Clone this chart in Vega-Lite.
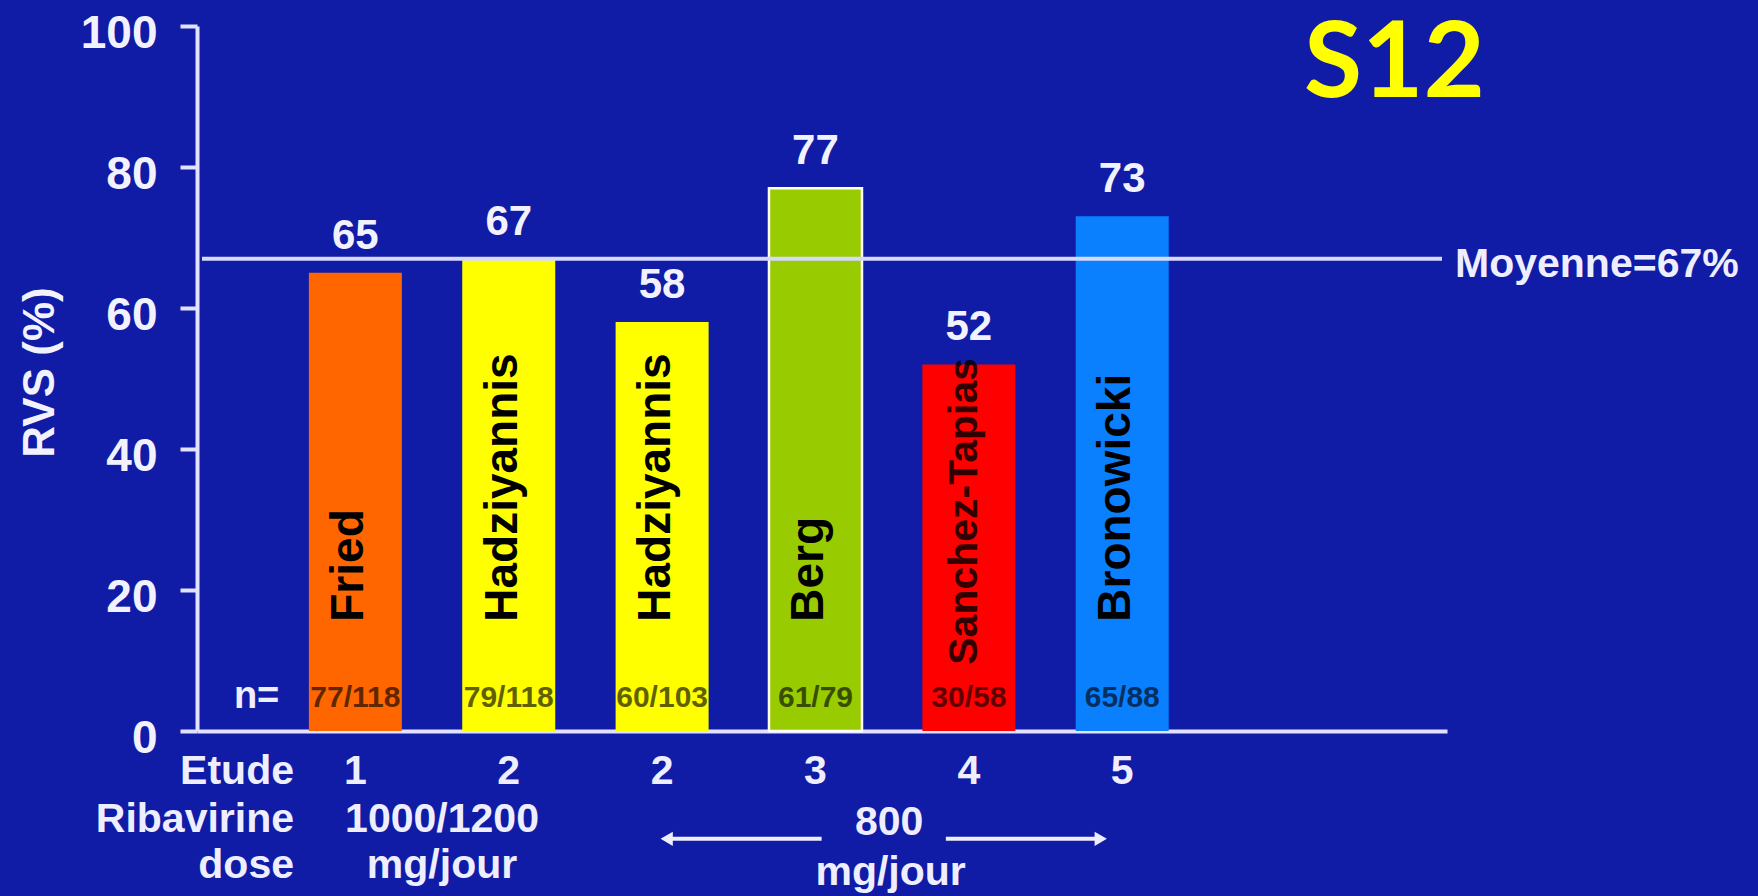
{
  "$schema": "https://vega.github.io/schema/vega-lite/v6.json",
  "width": 1250,
  "height": 705,
  "autosize": {"type": "none"},
  "padding": {"left": 197, "top": 26, "right": 311, "bottom": 165},
  "background": "#101ca6",
  "config": {
    "view": {"stroke": null},
    "font": "Liberation Sans",
    "text": {"font": "Liberation Sans", "fontWeight": "bold"}
  },
  "datasets": {
    "etudes": [
      {"rang": 1, "etude": "1", "auteur": "Fried", "rvs": 65, "n": "77/118"},
      {"rang": 2, "etude": "2", "auteur": "Hadziyannis", "rvs": 67, "n": "79/118"},
      {"rang": 3, "etude": "2", "auteur": "Hadziyannis", "rvs": 58, "n": "60/103"},
      {"rang": 4, "etude": "3", "auteur": "Berg", "rvs": 77, "n": "61/79"},
      {"rang": 5, "etude": "4", "auteur": "Sanchez-Tapias", "rvs": 52, "n": "30/58"},
      {"rang": 6, "etude": "5", "auteur": "Bronowicki", "rvs": 73, "n": "65/88"}
    ],
    "moyenne": [{"rvs_moyenne": 67}]
  },
  "layer": [
    {
      "data": {"name": "etudes"},
      "mark": {"type": "bar", "orient": "vertical", "width": 93, "strokeWidth": 2.5},
      "encoding": {
        "x": {
          "field": "rang",
          "type": "quantitative",
          "scale": {"domain": [0, 8.085], "nice": false, "zero": false},
          "axis": {
            "domain": true,
            "domainColor": "#e2e2ff",
            "domainWidth": 4,
            "ticks": false,
            "labels": false,
            "grid": false,
            "title": null
          }
        },
        "y": {
          "field": "rvs",
          "type": "quantitative",
          "scale": {"domain": [0, 100], "nice": false},
          "title": "RVS (%)",
          "axis": {
            "values": [0, 20, 40, 60, 80, 100],
            "grid": false,
            "domainColor": "#e2e2ff",
            "domainWidth": 4,
            "tickColor": "#e2e2ff",
            "tickWidth": 4,
            "tickSize": 17,
            "labelFont": "Liberation Sans",
            "labelFontWeight": "bold",
            "labelFontSize": 46,
            "labelColor": "#f2f2ff",
            "labelPadding": 23,
            "labelOffset": 7,
            "labelFlush": false,
            "labelOverlap": false,
            "titleFont": "Liberation Sans",
            "titleFontWeight": "bold",
            "titleFontSize": 44,
            "titleColor": "#f2f2ff",
            "titleX": -157,
            "titleY": 346,
            "titleAngle": 270,
            "titleAlign": "center",
            "titleBaseline": "middle"
          }
        },
        "color": {
          "field": "auteur",
          "type": "nominal",
          "scale": {
            "domain": ["Fried", "Hadziyannis", "Berg", "Sanchez-Tapias", "Bronowicki"],
            "range": ["#ff6600", "#ffff00", "#99cc00", "#ff0000", "#0a80ff"]
          },
          "legend": null
        },
        "stroke": {
          "condition": {"test": "datum.auteur === 'Berg'", "value": "#ffffff"},
          "value": "transparent"
        }
      }
    },
    {
      "data": {"name": "moyenne"},
      "mark": {"type": "rule", "color": "#d8d8ff", "strokeWidth": 4},
      "encoding": {
        "x": {"datum": 0, "type": "quantitative", "scale": {"domain": [0, 8.085]}},
        "x2": {"datum": 8.085},
        "y": {"field": "rvs_moyenne", "type": "quantitative", "scale": {"domain": [0, 100]}, "title": "RVS (%)"}
      }
    },
    {
      "data": {"name": "moyenne"},
      "mark": {"type": "text", "align": "left", "baseline": "middle", "dx": 13, "dy": 6, "fontSize": 41, "color": "#eeeeff"},
      "encoding": {
        "x": {"datum": 8.085, "type": "quantitative", "scale": {"domain": [0, 8.085]}},
        "y": {"field": "rvs_moyenne", "type": "quantitative", "scale": {"domain": [0, 100]}, "title": "RVS (%)"},
        "text": {"value": "Moyenne=67%"}
      }
    },
    {
      "data": {"values": [{"diapo": "S12"}]},
      "mark": {"type": "text", "align": "center", "baseline": "alphabetic", "font": "Lato", "fontWeight": "bold", "fontSize": 106, "color": "#ffff00"},
      "encoding": {
        "x": {"datum": 7.775, "type": "quantitative", "scale": {"domain": [0, 8.085]}},
        "y": {"datum": 89.9, "type": "quantitative", "scale": {"domain": [0, 100]}},
        "text": {"field": "diapo", "type": "nominal"}
      }
    },
    {
      "data": {"name": "etudes"},
      "mark": {"type": "text", "align": "center", "baseline": "alphabetic", "dy": -24, "fontSize": 42, "color": "#f2f2ff"},
      "encoding": {
        "x": {"field": "rang", "type": "quantitative", "scale": {"domain": [0, 8.085]}},
        "y": {"field": "rvs", "type": "quantitative", "scale": {"domain": [0, 100]}, "title": "RVS (%)"},
        "text": {"field": "rvs", "type": "quantitative"}
      }
    },
    {
      "data": {"name": "etudes"},
      "transform": [{"filter": "datum.auteur !== 'Sanchez-Tapias'"}],
      "mark": {"type": "text", "angle": 270, "align": "left", "baseline": "alphabetic", "dy": 8, "fontSize": 46, "color": "#000000"},
      "encoding": {
        "x": {"field": "rang", "type": "quantitative", "scale": {"domain": [0, 8.085]}},
        "y": {"datum": 15.5, "type": "quantitative", "scale": {"domain": [0, 100]}},
        "text": {"field": "auteur", "type": "nominal"}
      }
    },
    {
      "data": {"name": "etudes"},
      "transform": [{"filter": "datum.auteur === 'Sanchez-Tapias'"}],
      "mark": {"type": "text", "angle": 270, "align": "left", "baseline": "alphabetic", "dy": 8, "fontSize": 41, "color": "#000000", "opacity": 0.8},
      "encoding": {
        "x": {"field": "rang", "type": "quantitative", "scale": {"domain": [0, 8.085]}},
        "y": {"datum": 9.4, "type": "quantitative", "scale": {"domain": [0, 100]}},
        "text": {"field": "auteur", "type": "nominal"}
      }
    },
    {
      "data": {"name": "etudes"},
      "mark": {"type": "text", "align": "center", "baseline": "alphabetic", "fontSize": 30, "color": "#000000", "opacity": 0.62},
      "encoding": {
        "x": {"field": "rang", "type": "quantitative", "scale": {"domain": [0, 8.085]}},
        "y": {"datum": 3.4, "type": "quantitative", "scale": {"domain": [0, 100]}},
        "text": {"field": "n", "type": "nominal"}
      }
    },
    {
      "data": {"values": [{"texte": "n="}]},
      "mark": {"type": "text", "align": "center", "baseline": "alphabetic", "fontSize": 38, "color": "#eeeeff"},
      "encoding": {
        "x": {"datum": 0.356, "type": "quantitative", "scale": {"domain": [0, 8.085]}},
        "y": {"datum": 3.3, "type": "quantitative", "scale": {"domain": [0, 100]}},
        "text": {"field": "texte", "type": "nominal"}
      }
    },
    {
      "data": {"name": "etudes"},
      "mark": {"type": "text", "align": "center", "baseline": "alphabetic", "fontSize": 41, "color": "#eeeeff"},
      "encoding": {
        "x": {"field": "rang", "type": "quantitative", "scale": {"domain": [0, 8.085]}},
        "y": {"datum": -7.5, "type": "quantitative", "scale": {"domain": [0, 100]}},
        "text": {"field": "etude", "type": "nominal"}
      }
    },
    {
      "data": {"values": [{"texte": "Etude"}]},
      "mark": {"type": "text", "align": "right", "baseline": "alphabetic", "fontSize": 41, "color": "#eeeeff"},
      "encoding": {
        "x": {"datum": 0.6, "type": "quantitative", "scale": {"domain": [0, 8.085]}},
        "y": {"datum": -7.5, "type": "quantitative", "scale": {"domain": [0, 100]}},
        "text": {"field": "texte", "type": "nominal"}
      }
    },
    {
      "data": {"values": [{"texte": "Ribavirine"}]},
      "mark": {"type": "text", "align": "right", "baseline": "alphabetic", "fontSize": 41, "color": "#eeeeff"},
      "encoding": {
        "x": {"datum": 0.6, "type": "quantitative", "scale": {"domain": [0, 8.085]}},
        "y": {"datum": -14.3, "type": "quantitative", "scale": {"domain": [0, 100]}},
        "text": {"field": "texte", "type": "nominal"}
      }
    },
    {
      "data": {"values": [{"texte": "dose"}]},
      "mark": {"type": "text", "align": "right", "baseline": "alphabetic", "fontSize": 41, "color": "#eeeeff"},
      "encoding": {
        "x": {"datum": 0.6, "type": "quantitative", "scale": {"domain": [0, 8.085]}},
        "y": {"datum": -20.85, "type": "quantitative", "scale": {"domain": [0, 100]}},
        "text": {"field": "texte", "type": "nominal"}
      }
    },
    {
      "data": {"values": [{"texte": "1000/1200"}]},
      "mark": {"type": "text", "align": "center", "baseline": "alphabetic", "fontSize": 41, "color": "#eeeeff"},
      "encoding": {
        "x": {"datum": 1.565, "type": "quantitative", "scale": {"domain": [0, 8.085]}},
        "y": {"datum": -14.3, "type": "quantitative", "scale": {"domain": [0, 100]}},
        "text": {"field": "texte", "type": "nominal"}
      }
    },
    {
      "data": {"values": [{"texte": "mg/jour"}]},
      "mark": {"type": "text", "align": "center", "baseline": "alphabetic", "fontSize": 41, "color": "#eeeeff"},
      "encoding": {
        "x": {"datum": 1.565, "type": "quantitative", "scale": {"domain": [0, 8.085]}},
        "y": {"datum": -20.85, "type": "quantitative", "scale": {"domain": [0, 100]}},
        "text": {"field": "texte", "type": "nominal"}
      }
    },
    {
      "data": {"values": [{"texte": "800"}]},
      "mark": {"type": "text", "align": "center", "baseline": "alphabetic", "fontSize": 41, "color": "#eeeeff"},
      "encoding": {
        "x": {"datum": 4.48, "type": "quantitative", "scale": {"domain": [0, 8.085]}},
        "y": {"datum": -14.75, "type": "quantitative", "scale": {"domain": [0, 100]}},
        "text": {"field": "texte", "type": "nominal"}
      }
    },
    {
      "data": {"values": [{"texte": "mg/jour"}]},
      "mark": {"type": "text", "align": "center", "baseline": "alphabetic", "fontSize": 41, "color": "#eeeeff"},
      "encoding": {
        "x": {"datum": 4.49, "type": "quantitative", "scale": {"domain": [0, 8.085]}},
        "y": {"datum": -21.9, "type": "quantitative", "scale": {"domain": [0, 100]}},
        "text": {"field": "texte", "type": "nominal"}
      }
    },
    {
      "data": {"values": [{"sens": "gauche", "de": 3.03, "a": 4.04}, {"sens": "droite", "de": 4.85, "a": 5.86}]},
      "mark": {"type": "rule", "color": "#eeeeff", "strokeWidth": 4},
      "encoding": {
        "x": {"field": "de", "type": "quantitative", "scale": {"domain": [0, 8.085]}},
        "x2": {"field": "a"},
        "y": {"datum": -15.3, "type": "quantitative", "scale": {"domain": [0, 100]}}
      }
    },
    {
      "data": {"values": [{"sens": "gauche", "pointe": 3.03}, {"sens": "droite", "pointe": 5.86}]},
      "mark": {"type": "point", "filled": true, "size": 200, "color": "#eeeeff", "opacity": 1},
      "encoding": {
        "x": {"field": "pointe", "type": "quantitative", "scale": {"domain": [0, 8.085]}},
        "y": {"datum": -15.3, "type": "quantitative", "scale": {"domain": [0, 100]}},
        "shape": {
          "field": "sens",
          "type": "nominal",
          "scale": {"domain": ["gauche", "droite"], "range": ["triangle-left", "triangle-right"]},
          "legend": null
        }
      }
    }
  ]
}
